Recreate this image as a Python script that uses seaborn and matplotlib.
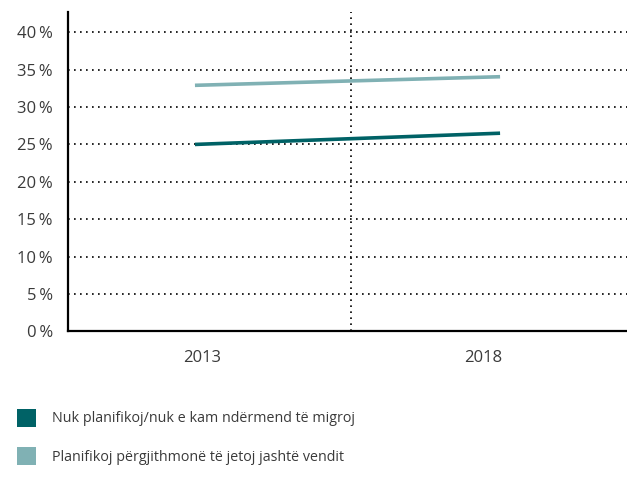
import pandas as pd
import numpy as np
import seaborn as sns
import matplotlib.pyplot as plt
from matplotlib.patches import Patch

# --- Data ---
years = ["2013", "2018"]
series_names = [
    "Nuk planifikoj/nuk e kam ndërmend të migroj",
    "Planifikoj përgjithmonë të jetoj jashtë vendit",
]
no_plan = [25.0, 26.5]
plan_abroad = [32.9, 34.05]
colors = ["#006266", "#80b1b4"]
y_ticks = [0, 5, 10, 15, 20, 25, 30, 35, 40]

df = pd.DataFrame({
    "pos": [0, 1, 0, 1],
    "year": years * 2,
    "value": no_plan + plan_abroad,
    "series": [series_names[0]] * 2 + [series_names[1]] * 2,
})

sns.set_theme(style="white")
plt.rcParams["font.family"] = ["Open Sans", "DejaVu Sans"]
text_color = "#3a3a3a"

fig = plt.figure(figsize=(6.27, 4.94), dpi=100)
ax = fig.add_axes([0.1085, 0.329, 0.8915, 0.6467])

sns.lineplot(data=df, x="pos", y="value", hue="series", palette=colors,
             linewidth=2.6, legend=False, ax=ax, solid_capstyle="butt")

dotted = (0, (1, 2.6))
for t in y_ticks[1:]:
    ax.axhline(t, color="black", lw=1.2, ls=dotted, zorder=0)
ax.axvline(0.511, color="black", lw=1.2, ls=dotted, zorder=0)

ax.set_xlim(-0.416, 1.416)
ax.set_ylim(0, 42.7)
ax.set_yticks(y_ticks)
ax.set_yticklabels([f"{t}\u2009%" for t in y_ticks])
ax.set_xticks([0.023, 0.944])
ax.set_xticklabels(years)
ax.tick_params(axis="y", length=0, pad=11, labelsize=12, labelcolor=text_color)
ax.tick_params(axis="x", length=0, pad=13, labelsize=12, labelcolor=text_color)
ax.set_xlabel("")
ax.set_ylabel("")

for side in ["top", "right"]:
    ax.spines[side].set_visible(False)
for side in ["left", "bottom"]:
    ax.spines[side].set_color("black")
    ax.spines[side].set_linewidth(1.6)

handles = [Patch(facecolor=c, edgecolor="none") for c in colors]
leg = fig.legend(handles, series_names, loc="upper left",
                 bbox_to_anchor=(0.0174, 0.184), frameon=False,
                 fontsize=10.3, handlelength=1.35, handleheight=1.55,
                 handletextpad=1.1, labelspacing=1.45, borderaxespad=0)
for txt in leg.get_texts():
    txt.set_color(text_color)

fig.savefig("out.png", dpi=100)
